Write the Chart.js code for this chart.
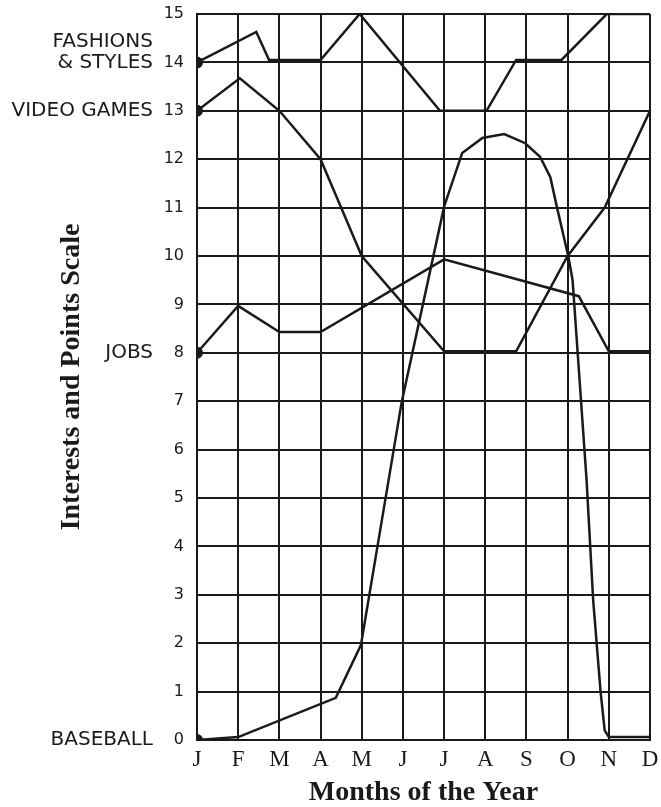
<!DOCTYPE html>
<html>
<head>
<meta charset="utf-8">
<title>Interests and Points Scale</title>
<script src="https://cdn.jsdelivr.net/npm/chart.js@4.4.1/dist/chart.umd.min.js"></script>
<style>
  html, body { margin: 0; padding: 0; background: #fff; }
  canvas { display: block; }
</style>
</head>
<body>
<canvas id="chart" width="661" height="807"></canvas>
<script>
const months = ['J', 'F', 'M', 'A', 'M', 'J', 'J', 'A', 'S', 'O', 'N', 'D'];

// x is the month index (0 = J ... 11 = D), y is the points scale
const fashionsX = [0, 1.44, 1.75, 3, 3.95, 5.9, 7.03, 7.75, 8.85, 9.95, 11];
const fashionsY = [14, 14.63, 14.05, 14.05, 15, 13, 13, 14.05, 14.05, 15, 15];

const videoX = [0, 1.04, 2, 3, 4, 6, 7.75, 9, 9.9, 11];
const videoY = [13, 13.67, 13, 12, 10, 8.03, 8.03, 10, 11, 13];

const jobsX = [0, 1, 2, 3, 6, 9.27, 10, 11];
const jobsY = [8, 8.97, 8.43, 8.43, 9.93, 9.17, 8.03, 8.03];

const baseballX = [0, 1, 3.37, 3.98, 4.97, 6, 6.44, 6.93, 7.46, 7.97, 8.33, 8.58, 8.74, 9.02, 9.12, 9.46, 9.62, 9.8, 9.9, 10, 11];
const baseballY = [0, 0.06, 0.87, 1.96, 6.98, 11.02, 12.13, 12.44, 12.52, 12.33, 12.05, 11.63, 11.01, 9.98, 9.5, 5.37, 2.89, 1.0, 0.2, 0.06, 0.06];

const seriesLabels = [['FASHIONS', '& STYLES'], ['VIDEO GAMES'], ['JOBS'], ['BASEBALL']];

const ink = '#1a1a1a';

function toPoints(xs, ys) {
    return xs.map((x, i) => ({ x: x, y: ys[i] }));
}

// dot only where each line starts on the y axis
function startDot(ctx) {
    return ctx.dataIndex === 0 ? 6 : 0;
}

// hand-lettered names beside the axis, level with each line's starting value
const seriesNames = {
    id: 'seriesNames',
    afterDraw(chart) {
        const { ctx, scales: { y } } = chart;
        ctx.save();
        ctx.fillStyle = ink;
        ctx.font = '20px "DejaVu Sans"';
        ctx.textAlign = 'right';
        ctx.textBaseline = 'middle';
        chart.data.datasets.forEach((ds, i) => {
            const lines = seriesLabels[i];
            const yPx = y.getPixelForValue(ds.data[0].y);
            lines.forEach((line, j) => {
                ctx.fillText(line, 153, yPx - (lines.length - 1 - j) * 21);
            });
        });
        ctx.restore();
    }
};

const datasets = [
    toPoints(fashionsX, fashionsY),
    toPoints(videoX, videoY),
    toPoints(jobsX, jobsY),
    toPoints(baseballX, baseballY)
].map((points, i) => ({
    label: seriesLabels[i].join(' '),
    data: points,
    borderColor: ink,
    backgroundColor: ink,
    borderWidth: 2.5,
    pointRadius: startDot,
    pointBorderWidth: 0,
    fill: false,
    tension: 0
}));

const gridStyle = { color: ink, lineWidth: 2, drawTicks: false };

new Chart(document.getElementById('chart'), {
    type: 'line',
    data: { datasets: datasets },
    options: {
        responsive: false,
        animation: false,
        devicePixelRatio: 1,
        layout: { padding: 0 },
        plugins: {
            legend: { display: false },
            tooltip: { enabled: false }
        },
        scales: {
            x: {
                type: 'linear',
                min: 0,
                max: 11,
                ticks: {
                    stepSize: 1,
                    autoSkip: false,
                    maxRotation: 0,
                    padding: 6,
                    color: ink,
                    font: { family: '"Liberation Serif"', size: 23 },
                    callback: v => months[Math.round(v)]
                },
                grid: gridStyle,
                border: { color: ink, width: 2 },
                title: {
                    display: true,
                    text: 'Months of the Year',
                    color: ink,
                    font: { family: '"Liberation Serif"', size: 28, weight: 'bold' },
                    padding: { top: 0, bottom: -3 }
                },
                afterFit(scale) {
                    scale.height = 67;
                    scale.paddingRight = 11;
                }
            },
            y: {
                min: 0,
                max: 15,
                ticks: {
                    stepSize: 1,
                    padding: 13,
                    color: ink,
                    font: { family: '"DejaVu Sans"', size: 16 }
                },
                grid: gridStyle,
                border: { color: ink, width: 2 },
                title: {
                    display: true,
                    text: 'Interests and Points Scale',
                    color: ink,
                    font: { family: '"Liberation Serif"', size: 28, weight: 'bold' },
                    padding: { top: 55, bottom: 0 }
                },
                afterFit(scale) {
                    scale.width = 197;
                    scale.paddingTop = 14;
                }
            }
        }
    },
    plugins: [seriesNames]
});
</script>
</body>
</html>
